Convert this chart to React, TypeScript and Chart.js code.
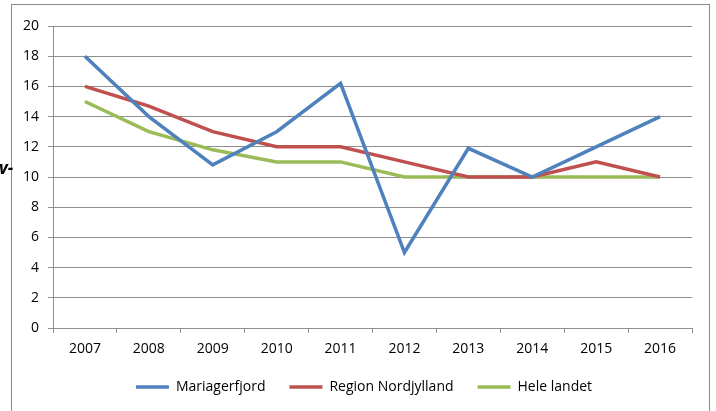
import React, { useEffect, useRef } from "react";
import { Chart, registerables } from "chart.js";

Chart.register(...registerables);

const years = ["2007", "2008", "2009", "2010", "2011", "2012", "2013", "2014", "2015", "2016"];
const mariagerfjord = [18, 14, 10.8, 13, 16.2, 5, 11.9, 10, 12, 14];
const regionNordjylland = [16, 14.7, 13, 12, 12, 11, 10, 10, 11, 10];
const heleLandet = [15, 13, 11.8, 11, 11, 10, 10, 10, 10, 10];
const seriesNames = ["Mariagerfjord", "Region Nordjylland", "Hele landet"];
const seriesColors = ["#4F81BD", "#C0504D", "#9BBB59"];
const yMin = 0;
const yMax = 20;
const yStep = 2;

const FONT = "'Open Sans', Lato, 'DejaVu Sans', sans-serif";
const GRID = "#8e8e8e";

export default function App() {
  const canvasRef = useRef<HTMLCanvasElement | null>(null);

  useEffect(() => {
    const canvas = canvasRef.current;
    if (!canvas) return;
    const values = [mariagerfjord, regionNordjylland, heleLandet];
    const chart = new Chart(canvas, {
      type: "line",
      data: {
        labels: years,
        datasets: values.map((v, i) => ({
          label: seriesNames[i],
          data: v,
          borderColor: seriesColors[i],
          backgroundColor: seriesColors[i],
          borderWidth: 3.5,
          pointRadius: 0,
          pointHoverRadius: 0,
          tension: 0,
          fill: false,
          yAxisID: "y",
        })),
      },
      options: {
        responsive: false,
        animation: false,
        layout: { padding: { left: 0, right: 0, top: 26, bottom: 7 } },
        plugins: {
          tooltip: { enabled: false },
          legend: {
            position: "bottom",
            labels: {
              usePointStyle: true,
              pointStyle: "line",
              pointStyleWidth: 33,
              color: "#000",
              font: { family: FONT, size: 14 },
              padding: 24,
            },
          },
        },
        scales: {
          x: {
            offset: true,
            grid: {
              offset: true,
              drawOnChartArea: false,
              drawTicks: true,
              tickLength: 5,
              color: GRID,
            },
            border: { color: GRID },
            ticks: { color: "#000", font: { family: FONT, size: 14 }, padding: 8, maxRotation: 0 },
            afterFit: (s: any) => {
              s.height = 28;
            },
          },
          y: {
            min: yMin,
            max: yMax,
            grid: { color: GRID, tickLength: 5 },
            border: { color: GRID },
            ticks: { stepSize: yStep, color: "#000", font: { family: FONT, size: 14 }, padding: 9 },
            afterFit: (s: any) => {
              s.width = 53;
            },
          },
          ySpacer: {
            type: "linear",
            position: "right",
            min: 0,
            max: 1,
            grid: { display: false, drawTicks: false },
            border: { display: false },
            ticks: { display: false },
            afterFit: (s: any) => {
              s.width = 36;
            },
          },
        },
      },
    });
    return () => chart.destroy();
  }, []);

  return (
    <div
      style={{
        position: "fixed",
        left: 0,
        top: 0,
        width: 716,
        height: 411,
        overflow: "hidden",
        background: "#fff",
      }}
    >
      <canvas ref={canvasRef} width={728} height={411} style={{ position: "absolute", left: 0, top: 0 }} />
      <div
        style={{
          position: "absolute",
          left: 11,
          top: 4,
          width: 697,
          height: 430,
          border: "1px solid #8a8a8a",
          pointerEvents: "none",
        }}
      />
      <div
        style={{
          position: "absolute",
          left: -1,
          top: 158,
          fontFamily: FONT,
          fontStyle: "italic",
          fontWeight: "bold",
          fontSize: 17,
          color: "#000",
          lineHeight: "20px",
        }}
      >
        v-
      </div>
    </div>
  );
}
